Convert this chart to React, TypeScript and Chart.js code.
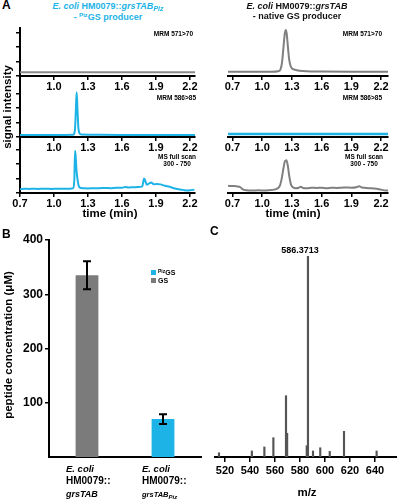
import React, { useEffect, useRef } from 'react';
import { Chart, registerables } from 'chart.js';
Chart.register(...registerables);

const CYAN = '#1eb3e6';
const GRAY = '#808080';
const FONT = '"Liberation Sans", Arial, Helvetica, sans-serif';

// ---------- Panel A: chromatograms (normalized signal) ----------
const TIME_TICKS = [0.7, 1.0, 1.3, 1.6, 1.9, 2.2];
const INTENSITY_TICKS = [0, 0.3, 0.6, 0.9];

// PizGS producer (left column)
const PIZ_MRM571_T = [0.7, 2.245];
const PIZ_MRM571_Y = [0.08, 0.08];
const PIZ_MRM586_T = [0.7, 1.0, 1.17, 1.185, 1.193, 1.2, 1.207, 1.215, 1.225, 1.24, 1.4, 1.8, 2.245];
const PIZ_MRM586_Y = [0.04, 0.04, 0.045, 0.15, 0.55, 0.93, 0.6, 0.2, 0.08, 0.05, 0.045, 0.04, 0.04];
const PIZ_FULL_T = [0.7, 0.74, 0.78, 0.82, 0.86, 0.9, 0.94, 0.98, 1.02, 1.06, 1.1, 1.14, 1.17, 1.18, 1.186, 1.192, 1.198, 1.204, 1.21, 1.218, 1.23, 1.26, 1.3, 1.35, 1.4, 1.45, 1.5, 1.55, 1.6, 1.63, 1.66, 1.7, 1.74, 1.78, 1.795, 1.805, 1.82, 1.84, 1.86, 1.88, 1.91, 1.94, 1.98, 2.02, 2.06, 2.1, 2.14, 2.18, 2.21, 2.24];
const PIZ_FULL_Y = [0.08, 0.09, 0.085, 0.09, 0.085, 0.09, 0.088, 0.085, 0.09, 0.087, 0.09, 0.09, 0.1, 0.3, 0.88, 0.75, 0.5, 0.35, 0.25, 0.15, 0.11, 0.1, 0.095, 0.1, 0.1, 0.105, 0.1, 0.11, 0.11, 0.125, 0.115, 0.12, 0.125, 0.14, 0.3, 0.26, 0.17, 0.2, 0.22, 0.18, 0.19, 0.18, 0.15, 0.13, 0.1, 0.08, 0.065, 0.05, 0.06, 0.07];

// native GS producer (right column)
const GS_MRM571_T = [0.655, 0.9, 1.1, 1.16, 1.185, 1.2, 1.215, 1.228, 1.238, 1.248, 1.26, 1.272, 1.285, 1.3, 1.33, 1.38, 1.45, 1.6, 1.9, 2.27];
const GS_MRM571_Y = [0.09, 0.09, 0.09, 0.1, 0.14, 0.28, 0.6, 0.88, 0.96, 0.88, 0.6, 0.35, 0.22, 0.16, 0.13, 0.11, 0.1, 0.095, 0.09, 0.09];
const GS_MRM586_T = [0.655, 2.27];
const GS_MRM586_Y = [0.06, 0.06];
const GS_FULL_T = [0.655, 0.7, 0.74, 0.78, 0.8, 0.84, 0.9, 0.96, 1.02, 1.08, 1.12, 1.15, 1.18, 1.2, 1.215, 1.23, 1.245, 1.26, 1.275, 1.29, 1.31, 1.34, 1.37, 1.39, 1.41, 1.45, 1.5, 1.55, 1.6, 1.65, 1.7, 1.75, 1.8, 1.85, 1.9, 1.95, 1.98, 2.0, 2.03, 2.08, 2.13, 2.18, 2.22, 2.27];
const GS_FULL_Y = [0.15, 0.145, 0.14, 0.12, 0.08, 0.055, 0.05, 0.055, 0.05, 0.06, 0.07, 0.09, 0.16, 0.33, 0.52, 0.66, 0.68, 0.55, 0.33, 0.18, 0.12, 0.1, 0.11, 0.13, 0.105, 0.1, 0.11, 0.105, 0.11, 0.1, 0.11, 0.105, 0.11, 0.115, 0.11, 0.12, 0.14, 0.12, 0.11, 0.1, 0.095, 0.08, 0.06, 0.05];

// ---------- Panel B: peptide concentration ----------
const STRAINS = ['E. coli HM0079::grsTAB', 'E. coli HM0079::grsTABPiz'];
const STRAIN_GENUS = ['E. coli', 'E. coli'];
const STRAIN_HOST = ['HM0079::', 'HM0079::'];
const STRAIN_GENE = ['grsTAB', 'grsTAB'];
const STRAIN_SUB = ['', 'Piz'];
const GS_CONC = [335, null];
const GS_ERR = [26, null];
const PIZGS_CONC = [null, 70];
const PIZGS_ERR = [null, 9];
const CONC_TICKS = [100, 200, 300, 400];

// ---------- Panel C: mass spectrum ----------
const MZ = [515.2, 541.5, 551.5, 558.7, 568.8, 569.7, 585.4, 586.37, 590.4, 596.2, 603.8, 615.2, 641.3];
const REL_INT = [2.1, 3, 5, 9.6, 30.5, 11.8, 5.6, 100, 3, 4.6, 2.8, 12.8, 3];
const MZ_TICKS = [520, 540, 560, 580, 600, 620, 640];
const PEAK_LABEL = '586.3713';

const zeroPad = (s: any) => {
  s.paddingLeft = 0; s.paddingRight = 0; s.paddingTop = 0; s.paddingBottom = 0;
};

const extendAxisPlugin = {
  id: 'extendAxis',
  afterDraw(chart: any, _a: any, opts: any) {
    if (!opts || !opts.enabled) return;
    const { ctx, chartArea } = chart;
    ctx.save();
    ctx.strokeStyle = '#000';
    ctx.lineWidth = 2;
    ctx.beginPath();
    ctx.moveTo(chartArea.left, chartArea.bottom);
    ctx.lineTo(chartArea.left, chart.height);
    ctx.stroke();
    ctx.restore();
  },
};

function traceConfig(t: number[], y: number[], color: string, lw: number, o: any) {
  const left = o.left;
  return {
    type: 'line',
    data: {
      datasets: [{
        data: t.map((x, i) => ({ x, y: y[i] })),
        borderColor: color,
        borderWidth: lw,
        pointRadius: 0,
        cubicInterpolationMode: 'monotone',
        fill: false,
      }],
    },
    options: {
      responsive: false,
      animation: false,
      devicePixelRatio: 1,
      layout: { padding: left ? { left: 0, right: 5, top: 4, bottom: 0 } : { left: 8, right: 9, top: 4, bottom: 0 } },
      plugins: { legend: { display: false }, tooltip: { enabled: false }, extendAxis: { enabled: !!o.extend } },
      scales: {
        x: {
          type: 'linear',
          min: left ? 0.7 : 0.655,
          max: left ? 2.245 : 2.27,
          afterBuildTicks: (s: any) => { s.ticks = TIME_TICKS.map((v) => ({ value: v })); },
          afterFit: (s: any) => { s.height = 16; zeroPad(s); },
          ticks: {
            font: { family: FONT, size: 11, weight: 'bold' },
            color: '#000',
            padding: 0,
            maxRotation: 0,
            autoSkip: false,
            callback: (v: number) => (o.hideFirst && Math.abs(v - 0.7) < 1e-6 ? '' : v.toFixed(1)),
          },
          grid: { drawOnChartArea: false, drawTicks: true, tickLength: 4, color: '#000', lineWidth: 1.5 },
          border: { display: true, color: '#000', width: 2 },
        },
        y: {
          display: left,
          min: 0,
          max: 1,
          afterBuildTicks: (s: any) => { s.ticks = INTENSITY_TICKS.map((v) => ({ value: v })); },
          afterFit: (s: any) => { s.width = 20; zeroPad(s); },
          ticks: { display: false },
          grid: { drawOnChartArea: false, drawTicks: true, tickLength: 4, color: '#000', lineWidth: 1.5 },
          border: { display: true, color: '#000', width: 2 },
        },
      },
    },
    plugins: [extendAxisPlugin],
  };
}

const errorBarPlugin = {
  id: 'errorBars',
  afterDatasetsDraw(chart: any, _a: any, opts: any) {
    const errs = opts.errors as (number | null)[][];
    const ys = chart.scales.y;
    const ctx = chart.ctx;
    ctx.save();
    ctx.strokeStyle = '#000';
    ctx.lineWidth = 2;
    chart.data.datasets.forEach((ds: any, di: number) => {
      const meta = chart.getDatasetMeta(di);
      ds.data.forEach((v: number | null, j: number) => {
        const e = errs[di][j];
        if (v == null || e == null) return;
        const x = meta.data[j].x;
        const top = ys.getPixelForValue(v + e);
        const bot = ys.getPixelForValue(v - e);
        ctx.beginPath();
        ctx.moveTo(x, top); ctx.lineTo(x, bot);
        ctx.moveTo(x - 4, top); ctx.lineTo(x + 4, top);
        ctx.moveTo(x - 4, bot); ctx.lineTo(x + 4, bot);
        ctx.stroke();
      });
    });
    ctx.restore();
  },
};

const strainLabelPlugin = {
  id: 'strainLabels',
  afterDraw(chart: any) {
    const xs = chart.scales.x;
    const ctx = chart.ctx;
    const base = chart.chartArea.bottom;
    ctx.save();
    ctx.fillStyle = '#000';
    ctx.textBaseline = 'middle';
    ctx.textAlign = 'left';
    STRAINS.forEach((_s, i) => {
      const x0 = xs.getPixelForValue(i) - 21;
      ctx.font = `italic bold 9.5px ${FONT}`;
      ctx.fillText(STRAIN_GENUS[i], x0, base + 12);
      ctx.font = `bold 10px ${FONT}`;
      ctx.fillText(STRAIN_HOST[i], x0, base + 24);
      if (STRAIN_SUB[i]) {
        ctx.font = `italic bold 7.5px ${FONT}`;
        ctx.fillText(STRAIN_GENE[i], x0, base + 38);
        const w = ctx.measureText(STRAIN_GENE[i]).width;
        ctx.font = `italic bold 6px ${FONT}`;
        ctx.fillText(STRAIN_SUB[i], x0 + w, base + 40);
      } else {
        ctx.font = `italic bold 9px ${FONT}`;
        ctx.fillText(STRAIN_GENE[i], x0, base + 38);
      }
    });
    ctx.restore();
  },
};

const peakLabelPlugin = {
  id: 'peakLabel',
  afterDatasetsDraw(chart: any) {
    let k = 0;
    REL_INT.forEach((v, i) => { if (v > REL_INT[k]) k = i; });
    const x = chart.scales.x.getPixelForValue(MZ[k]) - 8;
    const y = chart.scales.y.getPixelForValue(REL_INT[k]) - 5;
    const ctx = chart.ctx;
    ctx.save();
    ctx.fillStyle = '#000';
    ctx.font = `bold 9px ${FONT}`;
    ctx.textAlign = 'center';
    ctx.textBaseline = 'middle';
    ctx.fillText(PEAK_LABEL, x, y);
    ctx.restore();
  },
};

function barConfig() {
  return {
    type: 'bar',
    data: {
      labels: STRAINS,
      datasets: [
        { label: 'GS', data: GS_CONC, backgroundColor: '#7b7b7b', grouped: false, categoryPercentage: 1, barPercentage: 0.3 },
        { label: 'PizGS', data: PIZGS_CONC, backgroundColor: CYAN, grouped: false, categoryPercentage: 1, barPercentage: 0.3 },
      ],
    },
    options: {
      responsive: false,
      animation: false,
      devicePixelRatio: 1,
      layout: { padding: { left: 0, right: 9, top: 10, bottom: 0 } },
      plugins: { legend: { display: false }, tooltip: { enabled: false }, errorBars: { errors: [GS_ERR, PIZGS_ERR] } },
      scales: {
        x: {
          afterFit: (s: any) => { s.height = 43; zeroPad(s); },
          ticks: { display: false },
          grid: { display: false },
          border: { display: true, color: '#000', width: 2 },
        },
        y: {
          min: 0,
          max: 400,
          afterBuildTicks: (s: any) => { s.ticks = CONC_TICKS.map((v) => ({ value: v })); },
          afterFit: (s: any) => { s.width = 49; zeroPad(s); },
          ticks: { font: { family: FONT, size: 12, weight: 'bold' }, color: '#000', padding: 2 },
          grid: { drawOnChartArea: false, drawTicks: true, tickLength: 4, color: '#000', lineWidth: 1.5 },
          border: { display: true, color: '#000', width: 2 },
        },
      },
    },
    plugins: [errorBarPlugin, strainLabelPlugin],
  };
}

function stemConfig() {
  return {
    type: 'bar',
    data: {
      datasets: [{
        data: MZ.map((x, i) => ({ x, y: REL_INT[i] })),
        backgroundColor: '#555555',
        barThickness: 1.5,
      }],
    },
    options: {
      responsive: false,
      animation: false,
      devicePixelRatio: 1,
      layout: { padding: { left: 15, right: 0, top: 16, bottom: 0 } },
      plugins: { legend: { display: false }, tooltip: { enabled: false } },
      scales: {
        x: {
          type: 'linear',
          offset: false,
          min: 512,
          max: 657.6,
          afterBuildTicks: (s: any) => { s.ticks = MZ_TICKS.map((v) => ({ value: v })); },
          afterFit: (s: any) => { s.height = 43; zeroPad(s); },
          ticks: { font: { family: FONT, size: 11, weight: 'bold' }, color: '#000', padding: 2, maxRotation: 0, autoSkip: false },
          grid: { drawOnChartArea: false, drawTicks: true, tickLength: 5, color: '#000', lineWidth: 1.5, offset: false },
          border: { display: true, color: '#000', width: 2 },
        },
        y: { display: false, min: 0, max: 100 },
      },
    },
    plugins: [peakLabelPlugin],
  };
}

function ChartBox({ left, top, width, height, config }: any) {
  const ref = useRef<HTMLCanvasElement>(null);
  useEffect(() => {
    const chart = new Chart(ref.current as HTMLCanvasElement, config);
    return () => chart.destroy();
  }, []);
  return (
    <div style={{ position: 'absolute', left, top, width, height }}>
      <canvas ref={ref} width={width} height={height} style={{ display: 'block', width, height }} />
    </div>
  );
}

const txt = (extra: any): any => ({ position: 'absolute', fontFamily: FONT, color: '#000', whiteSpace: 'nowrap', margin: 0, ...extra });

function Label({ right, cy, children, align = 'right' }: any) {
  return (
    <div style={txt({ right: 397 - right, top: cy - 3.5, fontSize: 6.5, fontWeight: 'bold', lineHeight: '7px', textAlign: align })}>{children}</div>
  );
}

function VText({ cx, cy, w, children, size }: any) {
  return (
    <div style={txt({ left: cx - w / 2, top: cy - 8, width: w, height: 16, lineHeight: '16px', textAlign: 'center', fontSize: size, fontWeight: 'bold', transform: 'rotate(-90deg)' })}>{children}</div>
  );
}

export default function App() {
  useEffect(() => { document.body.style.margin = '0'; }, []);
  const H = 68;
  return (
    <div style={{ position: 'fixed', left: 0, top: 0, width: 397, height: 500, background: '#fff', overflow: 'hidden' }}>
      {/* Panel A left */}
      <ChartBox left={0} top={24} width={200} height={H} config={traceConfig(PIZ_MRM571_T, PIZ_MRM571_Y, '#8a8a8a', 2, { left: true, hideFirst: true, extend: true })} />
      <ChartBox left={0} top={85} width={200} height={H} config={traceConfig(PIZ_MRM586_T, PIZ_MRM586_Y, CYAN, 2, { left: true, hideFirst: true, extend: true })} />
      <ChartBox left={0} top={141} width={200} height={H} config={traceConfig(PIZ_FULL_T, PIZ_FULL_Y, CYAN, 2, { left: true, hideFirst: false, extend: false })} />
      {/* Panel A right */}
      <ChartBox left={200} top={24} width={197} height={H} config={traceConfig(GS_MRM571_T, GS_MRM571_Y, GRAY, 2, { left: false })} />
      <ChartBox left={200} top={85} width={197} height={H} config={traceConfig(GS_MRM586_T, GS_MRM586_Y, CYAN, 2.5, { left: false })} />
      <ChartBox left={200} top={141} width={197} height={H} config={traceConfig(GS_FULL_T, GS_FULL_Y, GRAY, 2, { left: false })} />
      {/* Panel B */}
      <ChartBox left={0} top={230} width={210} height={270} config={barConfig()} />
      {/* Panel C */}
      <ChartBox left={200} top={240} width={197} height={260} config={stemConfig()} />

      {/* Texts */}
      <div style={txt({ left: 2, top: -1, fontSize: 12, fontWeight: 'bold', lineHeight: '12px' })}>A</div>
      <div style={txt({ left: 0, top: 1, width: 216, textAlign: 'center', fontSize: 9, fontWeight: 'bold', lineHeight: '10px', color: CYAN })}>
        <div><i>E. coli</i> HM0079::<i>grsTAB<span style={{ fontSize: 7, position: 'relative', top: 2 }}>Piz</span></i></div>
        <div>- <span style={{ fontSize: 6, position: 'relative', top: -3 }}>Piz</span>GS producer</div>
      </div>
      <div style={txt({ left: 197, top: 1, width: 200, textAlign: 'center', fontSize: 9, fontWeight: 'bold', lineHeight: '10px', color: '#111' })}>
        <div><i>E. coli</i> HM0079::<i>grsTAB</i></div>
        <div>- native GS producer</div>
      </div>

      <Label right={193} cy={33}>MRM 571&gt;70</Label>
      <Label right={382} cy={33}>MRM 571&gt;70</Label>
      <Label right={196} cy={97}>MRM 586&gt;85</Label>
      <Label right={382} cy={97}>MRM 586&gt;85</Label>
      <div style={txt({ right: 397 - 196, top: 154, fontSize: 6.5, fontWeight: 'bold', lineHeight: '6.5px', textAlign: 'center' })}>MS full scan<br />300 - 750</div>
      <div style={txt({ right: 397 - 383, top: 154, fontSize: 6.5, fontWeight: 'bold', lineHeight: '6.5px', textAlign: 'center' })}>MS full scan<br />300 - 750</div>

      <div style={txt({ left: 70, top: 206, width: 80, textAlign: 'center', fontSize: 11.5, fontWeight: 'bold', lineHeight: '14px' })}>time (min)</div>
      <div style={txt({ left: 253, top: 206, width: 80, textAlign: 'center', fontSize: 11.5, fontWeight: 'bold', lineHeight: '14px' })}>time (min)</div>
      <VText cx={7} cy={107} w={120} size={11.5}>signal intensity</VText>

      <div style={txt({ left: 2, top: 228, fontSize: 12, fontWeight: 'bold', lineHeight: '12px' })}>B</div>
      <VText cx={8} cy={345} w={190} size={11.5}>peptide concentration (μM)</VText>
      <div style={txt({ left: 151, top: 269, fontSize: 7, fontWeight: 'bold', lineHeight: '8px' })}>
        <div><span style={{ display: 'inline-block', width: 5, height: 5, background: CYAN, marginRight: 2 }} /><span style={{ fontSize: 5, position: 'relative', top: -2 }}>Piz</span>GS</div>
        <div><span style={{ display: 'inline-block', width: 5, height: 5, background: '#7b7b7b', marginRight: 2 }} />GS</div>
      </div>

      <div style={txt({ left: 210, top: 225, fontSize: 12, fontWeight: 'bold', lineHeight: '12px' })}>C</div>
      <div style={txt({ left: 277, top: 485, width: 60, textAlign: 'center', fontSize: 11.5, fontWeight: 'bold', lineHeight: '14px' })}>m/z</div>
    </div>
  );
}
